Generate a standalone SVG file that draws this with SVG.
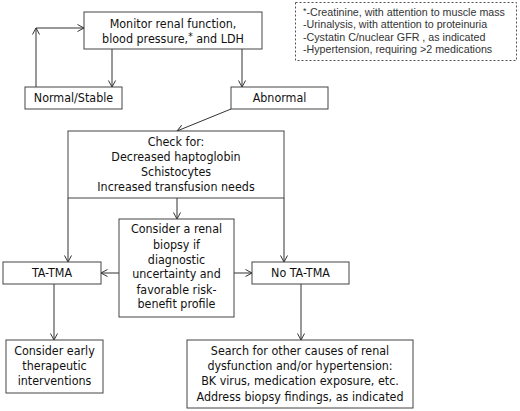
<svg xmlns="http://www.w3.org/2000/svg" width="520" height="411" viewBox="0 0 520 411">
<defs>
<style>
.box{fill:#fff;stroke:#444;stroke-width:1}
.t{font-family:"DejaVu Sans Condensed","DejaVu Sans",sans-serif;font-stretch:condensed;font-size:12.4px;fill:#111;text-anchor:middle}
.n{font-family:"Liberation Sans",Arial,sans-serif;font-size:10.7px;fill:#333}
.c{fill:none;stroke:#333;stroke-width:1}
</style>
<marker id="ah" markerWidth="9" markerHeight="9" refX="7" refY="4" orient="auto" markerUnits="userSpaceOnUse">
<path d="M0.5,0.5 L7,4 L0.5,7.5" fill="none" stroke="#333" stroke-width="1"/>
</marker>
</defs>
<rect width="520" height="411" fill="#fff"/>
<g id="connectors">
<line class="c" x1="36" y1="87" x2="36" y2="28" marker-end="url(#ah)"/>
<line class="c" x1="36" y1="28" x2="84" y2="28" marker-end="url(#ah)"/>
<line class="c" x1="112" y1="49" x2="112" y2="87" marker-end="url(#ah)"/>
<line class="c" x1="242" y1="49" x2="242" y2="87" marker-end="url(#ah)"/>
<line class="c" x1="231" y1="109" x2="177" y2="131" marker-end="url(#ah)"/>
<line class="c" x1="177" y1="198" x2="177" y2="219" marker-end="url(#ah)"/>
<line class="c" x1="68" y1="198" x2="68" y2="262" marker-end="url(#ah)"/>
<line class="c" x1="284" y1="198" x2="284" y2="262" marker-end="url(#ah)"/>
<line class="c" x1="119" y1="273" x2="101" y2="273" marker-end="url(#ah)"/>
<line class="c" x1="234" y1="273" x2="252" y2="273" marker-end="url(#ah)"/>
<line class="c" x1="54" y1="284" x2="54" y2="340" marker-end="url(#ah)"/>
<line class="c" x1="301" y1="284" x2="301" y2="340" marker-end="url(#ah)"/>
</g>
<g id="monitor">
<rect class="box" x="84" y="12" width="178" height="37"/>
<text class="t" x="173" y="28">Monitor renal function,</text>
<text class="t" x="173" y="43">blood pressure,<tspan font-size="10" dy="-3">*</tspan><tspan dy="3"> and LDH</tspan></text>
</g>
<g id="note">
<rect x="295.5" y="2.5" width="221" height="58" fill="#fff" stroke="#555" stroke-width="1" stroke-dasharray="2,2"/>
<text class="n" x="303" y="16"><tspan font-size="9" dy="-2">*</tspan><tspan dy="2">-Creatinine, with attention to muscle mass</tspan></text>
<text class="n" x="303" y="28">-Urinalysis, with attention to proteinuria</text>
<text class="n" x="303" y="41">-Cystatin C/nuclear GFR , as indicated</text>
<text class="n" x="303" y="53">-Hypertension, requiring &gt;2 medications</text>
</g>
<g id="normal">
<rect class="box" x="25" y="87" width="97" height="22"/>
<text class="t" x="73.5" y="102">Normal/Stable</text>
</g>
<g id="abnormal">
<rect class="box" x="231" y="87" width="97" height="22"/>
<text class="t" x="279.5" y="102">Abnormal</text>
</g>
<g id="check">
<rect class="box" x="68" y="131" width="216" height="67"/>
<text class="t" x="176" y="146">Check for:</text>
<text class="t" x="176" y="161">Decreased haptoglobin</text>
<text class="t" x="176" y="176">Schistocytes</text>
<text class="t" x="176" y="191">Increased transfusion needs</text>
</g>
<g id="biopsy">
<rect class="box" x="119" y="219" width="115" height="98"/>
<text class="t" x="176.5" y="233">Consider a renal</text>
<text class="t" x="176.5" y="249">biopsy if</text>
<text class="t" x="176.5" y="264">diagnostic</text>
<text class="t" x="176.5" y="278">uncertainty and</text>
<text class="t" x="176.5" y="294">favorable risk-</text>
<text class="t" x="176.5" y="308">benefit profile</text>
</g>
<g id="tatma">
<rect class="box" x="3" y="262" width="98" height="22"/>
<text class="t" x="52" y="277">TA-TMA</text>
</g>
<g id="notatma">
<rect class="box" x="252" y="262" width="97" height="22"/>
<text class="t" x="300.5" y="277">No TA-TMA</text>
</g>
<g id="early">
<rect class="box" x="6" y="340" width="97" height="53"/>
<text class="t" x="54.5" y="355">Consider early</text>
<text class="t" x="54.5" y="370">therapeutic</text>
<text class="t" x="54.5" y="385">interventions</text>
</g>
<g id="search">
<rect class="box" x="187" y="340" width="226" height="68"/>
<text class="t" x="300" y="355">Search for other causes of renal</text>
<text class="t" x="300" y="370">dysfunction and/or hypertension:</text>
<text class="t" x="300" y="385">BK virus, medication exposure, etc.</text>
<text class="t" x="300" y="401">Address biopsy findings, as indicated</text>
</g>
</svg>
